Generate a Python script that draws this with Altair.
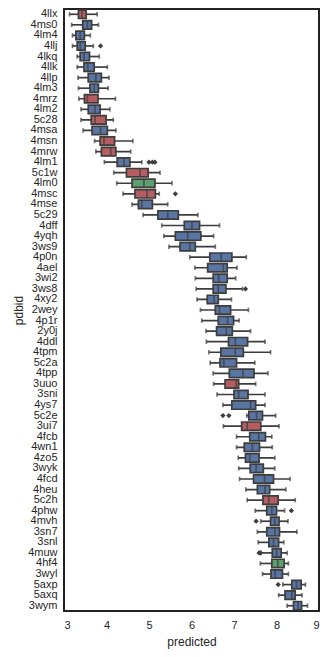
import altair as alt
import pandas as pd

ids = ["4llx","4ms0","4lm4","4llj","4lkq","4llk","4llp","4lm3","4mrz","4lm2",
       "5c28","4msa","4msn","4mrw","4lm1","5c1w","4lm0","4msc","4mse","5c29",
       "4dff","4yqh","3ws9","4p0n","4ael","3wi2","3ws8","4xy2","2wey","4p1r",
       "2y0j","4ddl","4tpm","5c2a","4tpp","3uuo","3sni","4ys7","5c2e","3ui7",
       "4fcb","4wn1","4zo5","3wyk","4fcd","4heu","5c2h","4phw","4mvh","3sn7",
       "3snl","4muw","4hf4","3wyl","5axp","5axq","3wym"]
groups = ["r","b","b","b","b","b","b","b","r","b",
          "r","b","r","r","b","r","g","r","b","b",
          "b","b","b","b","b","b","b","b","b","b",
          "b","b","b","b","b","r","b","b","b","r",
          "b","b","b","b","b","b","r","b","b","b",
          "b","b","g","b","b","b","b"]
lo  = [3.13,3.18,3.20,3.20,3.31,3.31,3.33,3.34,3.35,3.40,
       3.40,3.45,3.72,3.75,3.95,4.17,4.24,4.39,4.60,4.86,
       5.30,5.35,5.47,5.96,6.08,6.09,6.11,6.13,6.21,6.24,
       6.34,6.35,6.41,6.44,6.51,6.52,6.60,6.74,7.30,6.75,
       7.06,7.06,7.10,7.11,7.13,7.28,7.31,7.50,7.63,7.55,
       7.57,7.64,7.62,7.67,8.15,8.05,8.25]
q1  = [3.34,3.44,3.28,3.31,3.38,3.47,3.57,3.61,3.48,3.57,
       3.64,3.66,3.85,3.88,4.25,4.47,4.60,4.67,4.75,5.21,
       5.83,5.62,5.73,6.43,6.38,6.51,6.51,6.37,6.56,6.63,
       6.59,6.87,6.69,6.67,6.89,6.79,7.00,6.95,7.35,7.18,
       7.37,7.24,7.27,7.38,7.46,7.55,7.68,7.77,7.86,7.77,
       7.82,7.90,7.89,7.87,8.36,8.20,8.40]
med = [3.42,3.55,3.38,3.38,3.47,3.56,3.75,3.71,3.55,3.73,
       3.73,3.86,3.94,4.10,4.41,4.79,4.88,4.95,4.83,5.44,
       6.01,5.91,5.96,6.70,6.75,6.64,6.63,6.53,6.66,6.85,
       6.82,7.03,7.03,6.76,7.21,7.05,7.11,7.39,7.53,7.31,
       7.58,7.43,7.37,7.52,7.72,7.73,7.82,7.89,7.96,7.96,
       7.93,8.00,8.03,7.97,8.47,8.36,8.51]
q3  = [3.52,3.65,3.48,3.50,3.60,3.71,3.88,3.81,3.80,3.85,
       3.99,4.02,4.19,4.22,4.55,4.98,5.14,5.15,5.08,5.69,
       6.19,6.22,6.09,6.95,6.84,6.84,6.81,6.63,6.92,6.99,
       6.96,7.32,7.22,7.06,7.47,7.11,7.33,7.51,7.67,7.63,
       7.74,7.60,7.59,7.69,7.93,7.84,8.04,8.00,8.06,8.07,
       8.05,8.11,8.18,8.14,8.58,8.44,8.59]
hi  = [3.78,3.81,3.62,3.69,3.83,4.02,4.06,4.04,4.21,4.08,
       4.16,4.22,4.62,4.57,4.83,5.26,5.54,5.24,5.44,6.15,
       6.66,6.52,6.56,7.29,7.07,7.04,7.20,6.94,7.34,7.12,
       7.39,7.73,7.86,7.49,7.80,7.51,7.73,7.73,7.98,8.06,
       7.89,7.90,7.96,7.96,8.32,8.22,8.44,8.19,8.27,8.48,
       8.17,8.25,8.28,8.28,8.68,8.60,8.73]

out_ids  = ["4llj","4lm1","4lm1","4lm1","4msc","3ws8","5c2e","5c2e","4phw","4mvh","4muw","4muw","5axp"]
out_vals = [3.86,5.00,5.08,5.14,5.62,7.27,6.74,6.88,8.35,7.52,7.59,7.62,8.04]

x_ticks = [3, 4, 5, 6, 7, 8, 9]

df = pd.DataFrame({"pdbid": ids, "grp": groups, "lo": lo, "q1": q1,
                   "med": med, "q3": q3, "hi": hi})
dout = pd.DataFrame({"pdbid": out_ids, "val": out_vals})

EDGE = "#3d3d3d"
FONT = "Liberation Sans"

xs = alt.Scale(domain=[3, 9], nice=False, zero=False)
ys = alt.Scale(domain=ids, paddingInner=0, paddingOuter=0)
yenc = alt.Y("pdbid:N", scale=ys, title="pdbid",
             axis=alt.Axis(domain=False, ticks=False, labelPadding=7,
                           labelFontSize=11, titleFontSize=12,
                           titleFontWeight="normal", titlePadding=2,
                           labelColor="#262626", titleColor="#262626",
                           labelFont=FONT, titleFont=FONT))
xaxis = alt.Axis(values=x_ticks, domain=False, ticks=False, grid=False,
                 labelPadding=8, labelFontSize=11, titleFontSize=12,
                 titleFontWeight="normal", titlePadding=6,
                 labelColor="#262626", titleColor="#262626",
                 labelFont=FONT, titleFont=FONT, format="d")
cscale = alt.Scale(domain=["b", "r", "g"], range=["#5875a4", "#b55d60", "#5f9e6e"])

base = alt.Chart(df)

whisk = base.mark_rule(color=EDGE, strokeWidth=1.7).encode(
    x=alt.X("lo:Q", scale=xs, axis=xaxis, title="predicted"), x2="hi:Q", y=yenc)
caps_lo = base.mark_tick(color=EDGE, thickness=1.7, size=4.5).encode(
    x=alt.X("lo:Q", scale=xs), y=alt.Y("pdbid:N", scale=ys))
caps_hi = base.mark_tick(color=EDGE, thickness=1.7, size=4.5).encode(
    x=alt.X("hi:Q", scale=xs), y=alt.Y("pdbid:N", scale=ys))
box = base.mark_bar(size=8.4, stroke=EDGE, strokeWidth=1.7).encode(
    x=alt.X("q1:Q", scale=xs), x2="q3:Q", y=alt.Y("pdbid:N", scale=ys),
    color=alt.Color("grp:N", scale=cscale, legend=None))
medt = base.mark_tick(color=EDGE, thickness=1.7, size=8.4).encode(
    x=alt.X("med:Q", scale=xs), y=alt.Y("pdbid:N", scale=ys))
outl = alt.Chart(dout).mark_point(shape="diamond", filled=True, color=EDGE,
                                  opacity=1, size=28).encode(
    x=alt.X("val:Q", scale=xs), y=alt.Y("pdbid:N", scale=ys))

chart = alt.layer(whisk, caps_lo, caps_hi, box, medt, outl).properties(
    width=255, height=602,
    background="white",
    autosize=alt.AutoSizeParams(type="none"),
    padding={"left": 56, "top": 1, "right": 5, "bottom": 42},
).configure_view(stroke="#222222", strokeWidth=2, strokeOpacity=1)

chart.save("out.html", embed_options={"renderer": "svg", "actions": False})
